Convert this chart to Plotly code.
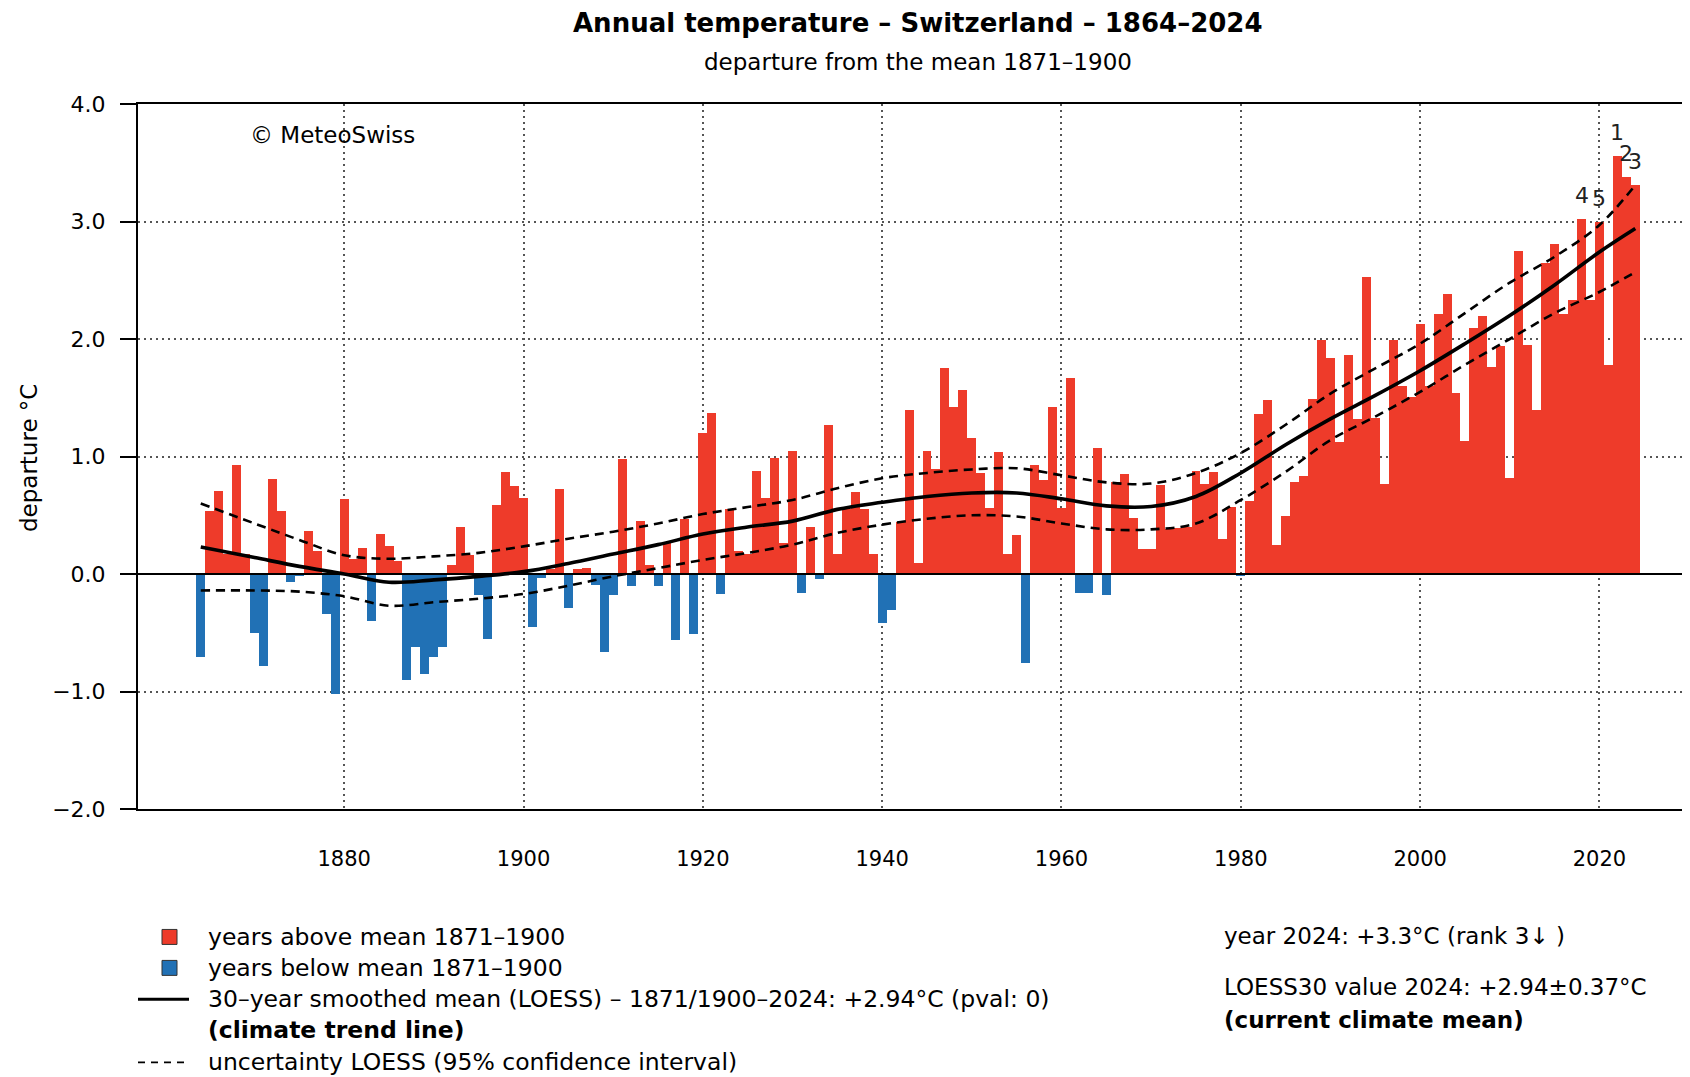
import plotly.graph_objects as go

# ---------------- data ----------------
years = list(range(1864, 2025))
anomaly = [
    -0.71, 0.54, 0.71, 0.17, 0.93, 0.17,                                # 1864-1869
    -0.50, -0.78, 0.81, 0.54, -0.07, -0.02, 0.37, 0.20, -0.34, -1.02,   # 1870s
    0.64, 0.13, 0.22, -0.40, 0.34, 0.24, 0.11, -0.90, -0.62, -0.85,     # 1880s
    -0.71, -0.62, 0.08, 0.40, 0.16, -0.18, -0.55, 0.59, 0.87, 0.75,     # 1890s
    0.65, -0.45, -0.03, 0.04, 0.72, -0.29, 0.04, 0.05, -0.09, -0.66,    # 1900s
    -0.18, 0.98, -0.10, 0.45, 0.08, -0.10, 0.27, -0.56, 0.47, -0.51,    # 1910s
    1.20, 1.37, -0.17, 0.55, 0.20, 0.17, 0.88, 0.65, 0.99, 0.26,        # 1920s
    1.05, -0.16, 0.40, -0.04, 1.27, 0.17, 0.55, 0.70, 0.55, 0.17,       # 1930s
    -0.42, -0.31, 0.44, 1.40, 0.09, 1.05, 0.89, 1.75, 1.42, 1.57,       # 1940s
    1.16, 0.86, 0.56, 1.04, 0.17, 0.33, -0.76, 0.93, 0.80, 1.42,        # 1950s
    0.56, 1.67, -0.16, -0.16, 1.07, -0.18, 0.78, 0.85, 0.48, 0.21,      # 1960s
    0.21, 0.76, 0.38, 0.39, 0.40, 0.88, 0.77, 0.87, 0.30, 0.57,         # 1970s
    -0.02, 0.62, 1.36, 1.48, 0.25, 0.49, 0.78, 0.83, 1.49, 1.99,        # 1980s
    1.84, 1.12, 1.86, 1.32, 2.53, 1.33, 0.77, 1.99, 1.60, 1.51,         # 1990s
    2.13, 1.60, 2.21, 2.38, 1.54, 1.13, 2.09, 2.20, 1.76, 1.94,         # 2000s
    0.82, 2.75, 1.95, 1.40, 2.65, 2.81, 2.21, 2.33, 3.02, 2.33,         # 2010s
    3.00, 1.78, 3.56, 3.38, 3.31,                                       # 2020-2024
]

loess_years = [1864, 1870, 1875, 1880, 1885, 1890, 1895, 1900, 1905, 1910,
               1915, 1920, 1925, 1930, 1935, 1940, 1945, 1950, 1955, 1960,
               1965, 1970, 1975, 1980, 1985, 1990, 1995, 2000, 2005, 2010,
               2015, 2020, 2024]
loess_mid = [0.23, 0.14, 0.065, 0.0, -0.07, -0.05, -0.02, 0.02, 0.09, 0.17,
             0.25, 0.34, 0.40, 0.45, 0.55, 0.61, 0.66, 0.69, 0.69, 0.64,
             0.58, 0.575, 0.66, 0.86, 1.10, 1.32, 1.52, 1.73, 1.96, 2.20,
             2.46, 2.74, 2.94]
loess_hi = [0.60, 0.43, 0.29, 0.16, 0.13, 0.15, 0.18, 0.235, 0.30, 0.36,
            0.43, 0.51, 0.57, 0.63, 0.73, 0.815, 0.86, 0.89, 0.90, 0.84,
            0.78, 0.77, 0.86, 1.03, 1.27, 1.535, 1.75, 1.96, 2.22, 2.48,
            2.70, 2.97, 3.31]
loess_lo = [-0.14, -0.14, -0.15, -0.19, -0.27, -0.24, -0.21, -0.17, -0.10, -0.02,
            0.05, 0.12, 0.18, 0.25, 0.35, 0.42, 0.47, 0.50, 0.49, 0.43,
            0.38, 0.38, 0.43, 0.63, 0.87, 1.14, 1.34, 1.55, 1.78, 2.00,
            2.22, 2.40, 2.57]

x_tick_vals = [1880, 1900, 1920, 1940, 1960, 1980, 2000, 2020]
y_tick_vals = [-2, -1, 0, 1, 2, 3, 4]

title_text = "Annual temperature – Switzerland – 1864–2024"
subtitle_text = "departure from the mean 1871–1900"
y_title = "departure °C"
credit = "© MeteoSwiss"
legend_rows = [
    "years above mean 1871–1900",
    "years below mean 1871–1900",
    "30–year smoothed mean (LOESS) – 1871/1900–2024: +2.94°C (pval: 0)",
    "<b>(climate trend line)</b>",
    "uncertainty LOESS (95% confidence interval)",
]
right_rows = [
    "year 2024: +3.3°C (rank 3↓ )",
    "LOESS30 value 2024: +2.94±0.37°C",
    "<b>(current climate mean)</b>",
]

# ---------------- style / layout ----------------
RED = "#EE3B2A"
BLUE = "#2171B5"
FONT = "DejaVu Sans"
OFF = 8                      # page body margin offset (window px)
W, H = 1690 - OFF, 1077 - OFF
# plot area in window pixels
PL, PT, PB, PR = 138, 103.5, 809.4, 1690


def px(x):
    return (x - PL) / (PR - PL)


def py(y):
    return (PB - y) / (PB - PT)


pos_x = [y for y, v in zip(years, anomaly) if v >= 0]
pos_v = [v for v in anomaly if v >= 0]
neg_x = [y for y, v in zip(years, anomaly) if v < 0]
neg_v = [v for v in anomaly if v < 0]

fig = go.Figure()
fig.add_trace(go.Bar(x=pos_x, y=pos_v, width=1, marker=dict(color=RED, line=dict(width=0)),
                     showlegend=False, hoverinfo="x+y"))
fig.add_trace(go.Bar(x=neg_x, y=neg_v, width=1, marker=dict(color=BLUE, line=dict(width=0)),
                     showlegend=False, hoverinfo="x+y"))
fig.add_trace(go.Scatter(x=loess_years, y=loess_hi, mode="lines",
                         line=dict(color="black", width=2.6, dash="9px,6px", shape="spline", smoothing=1.0),
                         showlegend=False))
fig.add_trace(go.Scatter(x=loess_years, y=loess_lo, mode="lines",
                         line=dict(color="black", width=2.6, dash="9px,6px", shape="spline", smoothing=1.0),
                         showlegend=False))
fig.add_trace(go.Scatter(x=loess_years, y=loess_mid, mode="lines",
                         line=dict(color="black", width=3.6, shape="spline", smoothing=1.0),
                         showlegend=False))

annotations = []
# rank labels for top 5 years
ranked = sorted(zip(anomaly, years), reverse=True)[:5]
for i, (v, yr) in enumerate(ranked):
    annotations.append(dict(x=yr, y=v + 0.2, xref="x", yref="y", text=str(i + 1),
                            showarrow=False, font=dict(family=FONT, size=22, color="#222"),
                            xanchor="center", yanchor="middle"))

annotations += [
    dict(x=px(918), y=py(22), xref="paper", yref="paper", text="<b>" + title_text + "</b>",
         showarrow=False, font=dict(family=FONT, size=26, color="black"),
         xanchor="center", yanchor="middle"),
    dict(x=px(918), y=py(61), xref="paper", yref="paper", text=subtitle_text,
         showarrow=False, font=dict(family=FONT, size=23, color="black"),
         xanchor="center", yanchor="middle"),
    dict(x=px(29), y=py(458), xref="paper", yref="paper", text=y_title, textangle=-90,
         showarrow=False, font=dict(family=FONT, size=23, color="black"),
         xanchor="center", yanchor="middle"),
    dict(x=px(248), y=py(135), xref="paper", yref="paper", text=credit,
         showarrow=False, font=dict(family=FONT, size=23, color="black"),
         xanchor="left", yanchor="middle"),
]

leg_y = [938, 969, 1000, 1031, 1063]
for t, yy in zip(legend_rows, leg_y):
    annotations.append(dict(x=px(206), y=py(yy), xref="paper", yref="paper", text=t,
                            showarrow=False, font=dict(family=FONT, size=23.5, color="black"),
                            xanchor="left", yanchor="middle"))
right_y = [937, 988, 1021]
for t, yy in zip(right_rows, right_y):
    annotations.append(dict(x=px(1222), y=py(yy), xref="paper", yref="paper", text=t,
                            showarrow=False, font=dict(family=FONT, size=23, color="black"),
                            xanchor="left", yanchor="middle"))

shapes = [
    # zero line
    dict(type="line", xref="paper", yref="y", x0=0, x1=1, y0=0, y1=0,
         line=dict(color="black", width=1.8), layer="above"),
    # legend symbols
    dict(type="rect", xref="paper", yref="paper", x0=px(162), x1=px(177), y0=py(945), y1=py(930),
         fillcolor=RED, line=dict(color="#333", width=1)),
    dict(type="rect", xref="paper", yref="paper", x0=px(162), x1=px(177), y0=py(976), y1=py(961),
         fillcolor=BLUE, line=dict(color="#333", width=1)),
    dict(type="line", xref="paper", yref="paper", x0=px(138), x1=px(189), y0=py(1000), y1=py(1000),
         line=dict(color="black", width=3)),
    dict(type="line", xref="paper", yref="paper", x0=px(138), x1=px(189), y0=py(1063), y1=py(1063),
         line=dict(color="black", width=1.8, dash="7px,6px")),
]

fig.update_layout(
    width=W, height=H,
    margin=dict(l=PL - OFF, r=0, t=PT - OFF, b=(1077 - PB), pad=0),
    paper_bgcolor="white", plot_bgcolor="white",
    bargap=0, barmode="overlay",
    font=dict(family=FONT, size=21, color="black"),
    annotations=annotations, shapes=shapes,
    showlegend=False,
)
fig.update_xaxes(
    range=[1857.0, 2030.1], tickvals=x_tick_vals, ticks="", ticklabelstandoff=30,
    tickfont=dict(family=FONT, size=21, color="black"),
    showgrid=True, gridcolor="#555", gridwidth=1.5, griddash="2px,4px",
    showline=True, mirror=True, linecolor="black", linewidth=2, zeroline=False,
)
fig.update_yaxes(
    range=[-2, 4], tickvals=y_tick_vals, tickformat=".1f",
    ticks="outside", ticklen=16, tickwidth=1.5, tickcolor="black", ticklabelstandoff=10,
    tickfont=dict(family=FONT, size=22, color="black"),
    showgrid=True, gridcolor="#555", gridwidth=1.5, griddash="2px,4px",
    showline=True, mirror=False, linecolor="black", linewidth=2, zeroline=False,
)

fig.write_html("out.html")
